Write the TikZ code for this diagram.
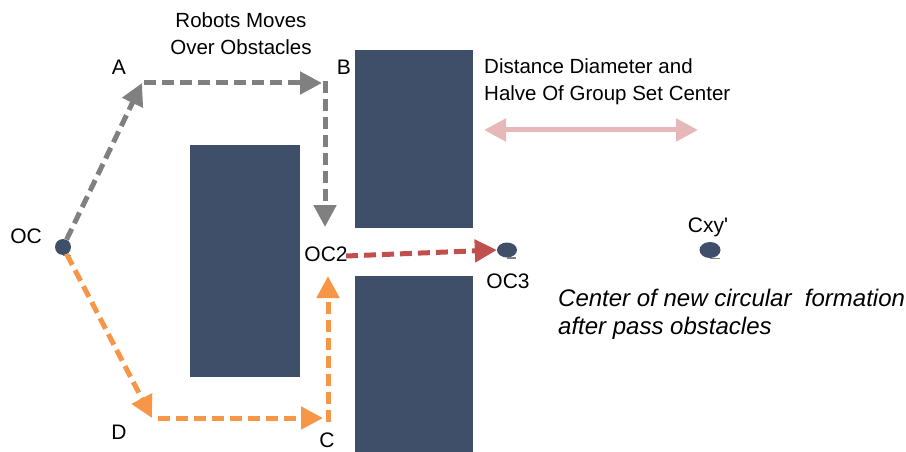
\documentclass[tikz,border=0pt]{standalone}
\usepackage{fontspec}
\setmainfont{Liberation Sans}
\usetikzlibrary{arrows.meta,shapes.geometric}
\definecolor{blk}{HTML}{3F4F6A}
\definecolor{gr}{HTML}{808080}
\definecolor{org}{HTML}{F79646}
\definecolor{rd}{HTML}{C0504D}
\definecolor{pk}{HTML}{E6B9B8}
\begin{document}
\begin{tikzpicture}[x=1pt,y=-1pt,
  obst/.style={fill=blk,draw=none},
  dot/.style={ellipse,fill=blk,inner sep=0pt},
  lbl/.style={font=\fontsize{21}{24}\selectfont,inner sep=0pt},
  route/.style={line width=5pt,dash pattern=on 12pt off 6pt,-{Triangle[length=22pt,width=22pt]}},
  txt/.style={font=\fontsize{20.5}{27}\selectfont,align=left,inner sep=0pt,anchor=north west}]
\useasboundingbox (0,0) rectangle (906,452);
\fill[obst] (190,145) rectangle (300,377);
\fill[obst] (355,50) rectangle (473,228);
\fill[obst] (355,276) rectangle (473,452);
% dots
\node[dot,minimum width=16pt,minimum height=16pt] (oc) at (63,247) {};
\draw[gr,line width=1.2pt] (63,255.5) -- (71,255.5);
\node[dot,minimum width=20pt,minimum height=15pt] (oc3) at (507,250) {};
\draw[gr,line width=1.2pt] (507,258) -- (516,258);
\node[dot,minimum width=21pt,minimum height=16pt] (cxy) at (710,250) {};
\draw[gr,line width=1.2pt] (710,258.5) -- (720,258.5);
% corner coordinates
\coordinate (a) at (142,83);
\coordinate (b) at (325,83);
\coordinate (c) at (328,418);
\coordinate (d) at (152,418);
\coordinate (oc2) at (346,256);
% gray path
\draw[route,gr] (oc) -- (a);
\draw[route,gr,shorten <=2pt] (a) -- ([xshift=-3pt]b);
\draw[route,gr] ([yshift=2pt]b) -- (325,227);
% orange path
\draw[route,org] (oc) -- (d);
\draw[route,org,shorten <=6pt] (d) -- ([xshift=-5pt]c);
\draw[route,org] ([yshift=-4pt]c) -- (328,276);
% red
\draw[route,rd] (oc2) -- (oc3.west);
% pink double arrow
\draw[pk,line width=5pt,{Triangle[length=22pt,width=22pt]}-{Triangle[length=22pt,width=22pt]}] (484,130) -- (698,130);
% labels
\node[lbl] (la) at (119,67) {A};
\node[lbl] (lb) at (344,67) {B};
\node[lbl] (lc) at (327,440) {C};
\node[lbl] (ld) at (119,432) {D};
\node[lbl] (loc) at (26,236) {OC};
\node[lbl] (loc2) at (326,254) {OC2};
\node[lbl] (loc3) at (508,281) {OC3};
\node[lbl] (lcxy) at (708,227) {Cxy\textquotesingle};
\node[txt,align=center,anchor=north] (robots) at (241,12) {Robots Moves\\Over Obstacles};
\node[txt] (dist) at (484,58) {Distance Diameter and\\Halve Of Group Set Center};
\node[txt,font=\fontsize{24}{28}\selectfont\itshape] (center) at (558,289) {Center of new circular\ \ formation\\after pass obstacles};
\end{tikzpicture}
\end{document}
